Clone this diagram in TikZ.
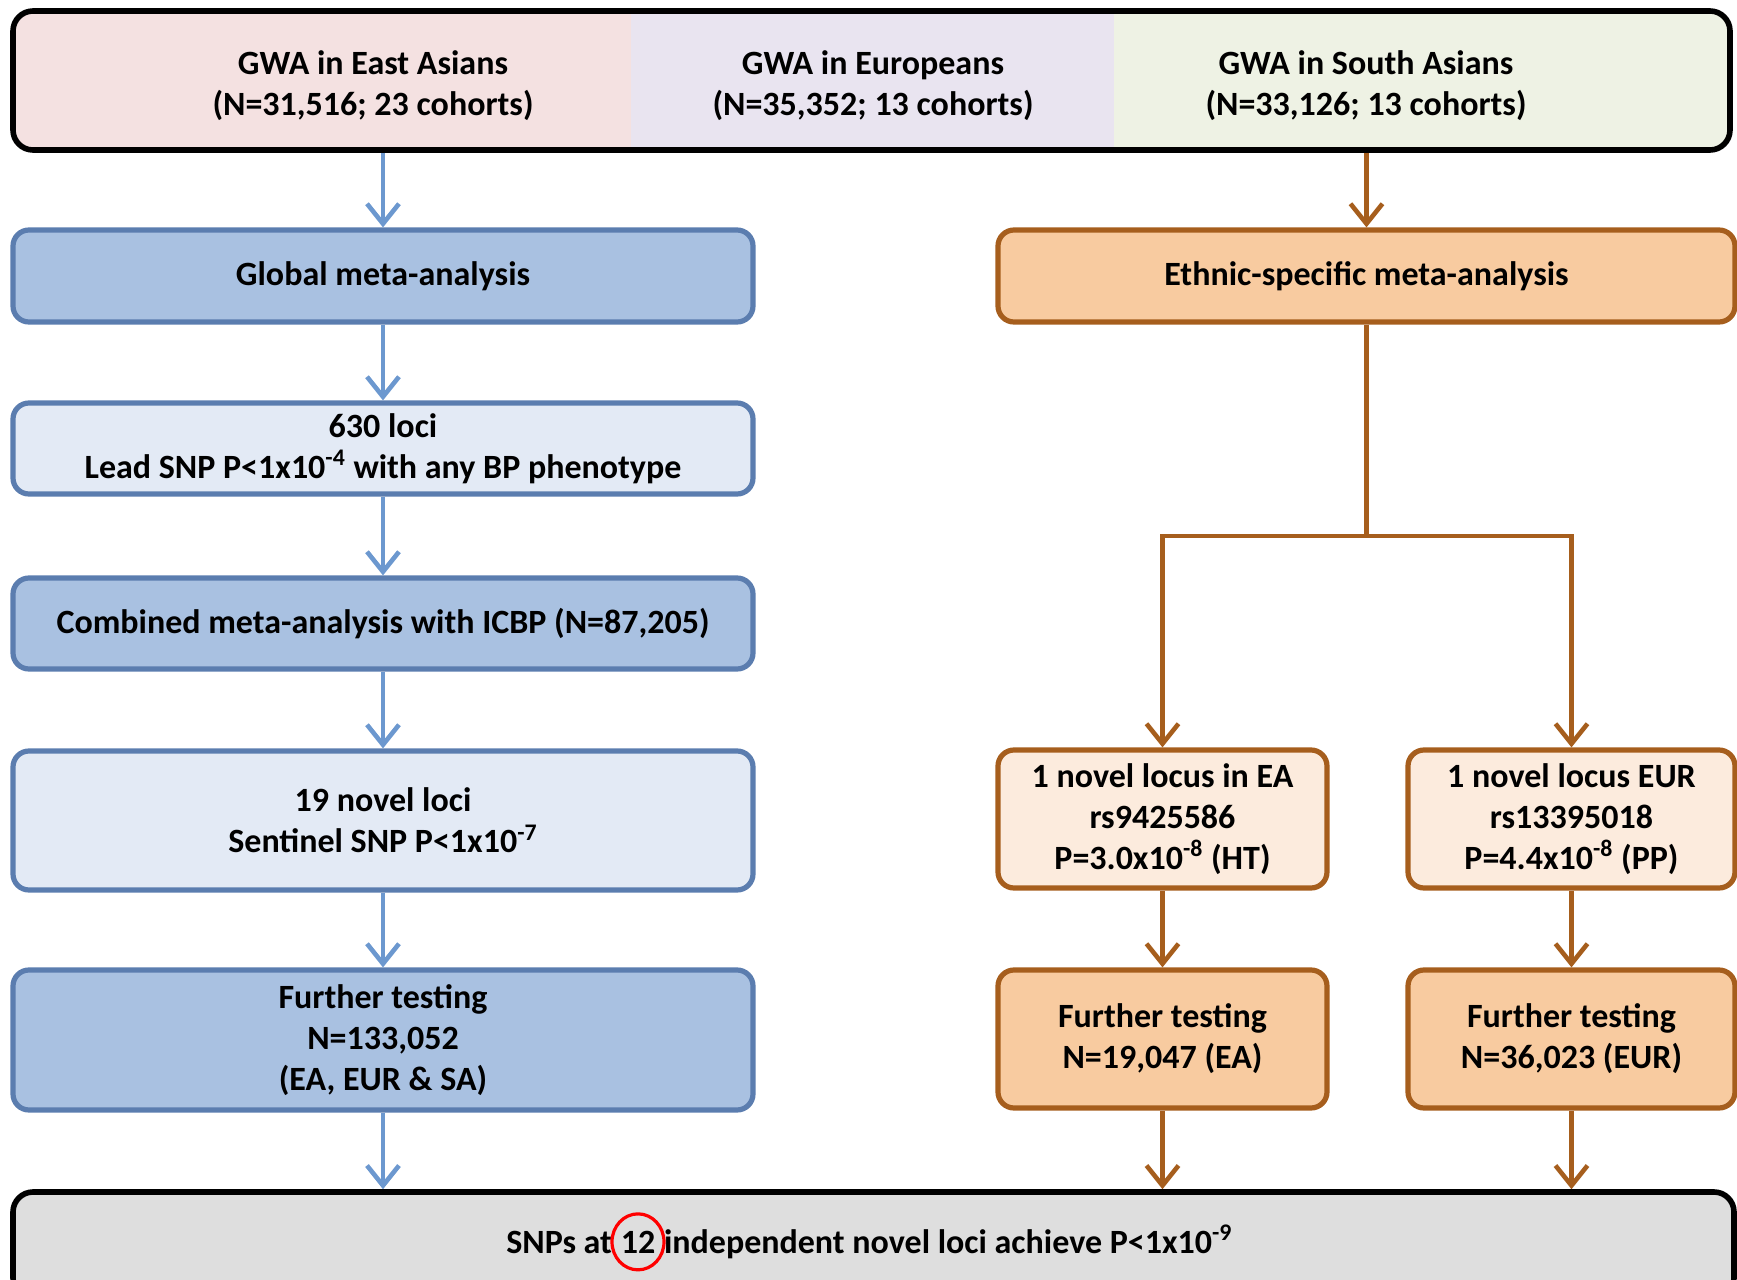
\documentclass[tikz,border=0pt]{standalone}
\usepackage{fontspec}
\setmainfont{Carlito}
\usetikzlibrary{arrows.meta}

\definecolor{bluedark}{HTML}{A9C1E1}
\definecolor{bluelight}{HTML}{E3EAF5}
\definecolor{blueline}{HTML}{5B7DAF}
\definecolor{bluearrow}{HTML}{6C98CF}
\definecolor{orangedark}{HTML}{F8CBA0}
\definecolor{orangelight}{HTML}{FCEBDD}
\definecolor{brownline}{HTML}{A65E1D}
\definecolor{pinkfill}{HTML}{F4E1E1}
\definecolor{lilacfill}{HTML}{E9E4F0}
\definecolor{greenfill}{HTML}{EEF2E4}
\definecolor{greyfill}{HTML}{DEDEDE}

\tikzset{
  txt/.style={align=center, font=\bfseries\fontsize{17}{20.5}\selectfont},
  box/.style={txt, draw, rounded corners=8pt, line width=2.6pt},
  globdark/.style={box, draw=blueline, fill=bluedark, minimum width=370pt},
  globlight/.style={globdark, fill=bluelight},
  ethdark/.style={box, draw=brownline, fill=orangedark},
  ethlight/.style={ethdark, fill=orangelight},
  bluearr/.style={draw=bluearrow, line width=2.3pt, -{Straight Barb[length=10pt,width=16pt]}},
  brownarr/.style={draw=brownline, line width=2.3pt, -{Straight Barb[length=10pt,width=16pt]}}
}

\begin{document}
\begin{tikzpicture}[x=0.5pt, y=-0.5pt]
  \useasboundingbox (0,0) rectangle (1737,1280);
  % Cohorts
  \begin{scope}
    \clip[rounded corners=10pt] (13,11) rectangle (1730,150);
    \fill[pinkfill] (13,11) rectangle (631,150);
    \fill[lilacfill] (631,11) rectangle (1114,150);
    \fill[greenfill] (1114,11) rectangle (1730,150);
  \end{scope}
  \node[draw, line width=2.8pt, rounded corners=10pt, minimum width=858.5pt, minimum height=69.5pt] (gwa) at (871.5,80.5) {};
  \node[txt] (eas) at (373,86) {GWA in East Asians\\(N=31,516; 23 cohorts)};
  \node[txt] (eur) at (873,86) {GWA in Europeans\\(N=35,352; 13 cohorts)};
  \node[txt] (sas) at (1366,86) {GWA in South Asians\\(N=33,126; 13 cohorts)};
  % Global meta-analysis
  \node[globdark, minimum height=46pt] (global) at (383,276) {Global meta-analysis};
  \node[globlight, minimum height=45.5pt] (loci) at (383,448.5) {630 loci\\Lead SNP P<1x10\textsuperscript{-4} with any BP phenotype};
  \node[globdark, minimum height=45.5pt] (combined) at (383,623.5) {Combined meta-analysis with ICBP (N=87,205)};
  \node[globlight, minimum height=69.5pt] (novel) at (383,820.5) {19 novel loci\\Sentinel SNP P<1x10\textsuperscript{-7}};
  \node[globdark, minimum height=70pt] (further) at (383,1040) {Further testing\\N=133,052\\(EA, EUR \& SA)};
  % Ethnic-specific meta-analysis
  \node[ethdark, minimum width=368.5pt, minimum height=46pt] (ethnic) at (1366.5,276) {Ethnic-specific meta-analysis};
  \node[ethlight, minimum width=164.5pt, minimum height=69pt] (locea) at (1162.5,819) {1 novel locus in EA\\rs9425586\\P=3.0x10\textsuperscript{-8} (HT)};
  \node[ethlight, minimum width=163.5pt, minimum height=69pt] (loceur) at (1571.5,819) {1 novel locus EUR\\rs13395018\\P=4.4x10\textsuperscript{-8} (PP)};
  \node[ethdark, minimum width=164.5pt, minimum height=69pt] (furtherea) at (1162.5,1039) {Further testing\\N=19,047 (EA)};
  \node[ethdark, minimum width=163.5pt, minimum height=69pt] (furthereur) at (1571.5,1039) {Further testing\\N=36,023 (EUR)};
  % Result
  \node[draw, fill=greyfill, line width=2.8pt, rounded corners=10pt, minimum width=860.5pt, minimum height=53pt] (final) at (873.5,1245) {};
  \node[txt, inner sep=0pt, anchor=base] (twelve) at (638,1253) {12};
  \node[txt, inner sep=0pt, anchor=base east] (snpsat) at ([xshift=-4pt]twelve.base west) {SNPs at};
  \node[txt, inner sep=0pt, anchor=base west] (rest) at ([xshift=4pt]twelve.base east) {independent novel loci achieve P<1x10\textsuperscript{-9}};
  \draw[red, line width=1.6pt] (twelve) ellipse (13pt and 14pt);
  % Arrows
  \draw[bluearr] (gwa.south -| global.north) -- (global.north);
  \draw[bluearr] (global) -- (loci);
  \draw[bluearr] (loci) -- (combined);
  \draw[bluearr] (combined) -- (novel);
  \draw[bluearr] (novel) -- (further);
  \draw[bluearr] (further) -- (further |- final.north);
  \draw[brownarr] (gwa.south -| ethnic.north) -- (ethnic.north);
  \coordinate (split) at (ethnic.south |- 0,536);
  \draw[brownline, line width=2.3pt] (ethnic.south) -- (split);
  \draw[brownarr] (split) -| (locea);
  \draw[brownarr] (split) -| (loceur);
  \draw[brownarr] (locea) -- (furtherea);
  \draw[brownarr] (loceur) -- (furthereur);
  \draw[brownarr] (furtherea) -- (furtherea |- final.north);
  \draw[brownarr] (furthereur) -- (furthereur |- final.north);
\end{tikzpicture}
\end{document}
